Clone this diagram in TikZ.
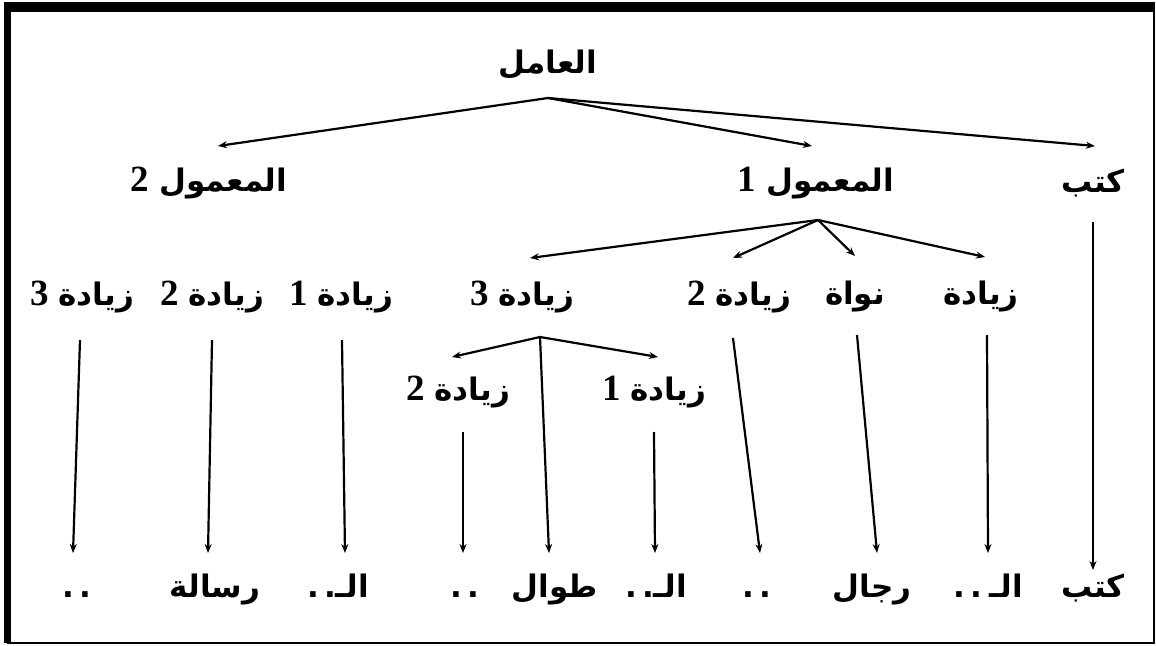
\documentclass[tikz,border=0pt]{standalone}
\usepackage{fontspec}
\usetikzlibrary{arrows.meta}
\TeXXeTstate=1
\newfontfamily\arfont[Script=Arabic]{DejaVu Sans}
\newfontfamily\numfont{Liberation Serif}
\newcommand{\AR}[1]{{\arfont\bfseries\fontsize{31}{36}\selectfont\beginR #1\endR}}
\newcommand{\NUM}[1]{{\numfont\bfseries\fontsize{37}{40}\selectfont #1}}
\newcommand{\DD}{{\arfont\bfseries\fontsize{31}{36}\selectfont .\hspace{5pt}.}}
\tikzset{
  lbl/.style={inner sep=0pt, anchor=center},
  bot/.style={inner sep=0pt, anchor=base},
  arr/.style={line width=2.2pt, -{Stealth[length=9pt,width=7pt]}},
}
\begin{document}
\begin{tikzpicture}[x=1pt,y=-1pt]
\useasboundingbox (0,0) rectangle (1156,645);
\fill[white] (0,0) rectangle (1156,645);
% frame
\draw[line width=2pt] (8,8) rectangle (1153.5,642.5);
\fill[black] (4,2) rectangle (1155,12);
\fill[black] (4,2) rectangle (11,643);

% level 0
\node[lbl] (root) at (548,65) {\AR{العامل}};
\coordinate (rA) at (548,98);
% level 1
\node[lbl] (m2) at (209,183) {\NUM{2}\hspace{10pt}\AR{المعمول}};
\node[lbl] (m1) at (816,183) {\NUM{1}\hspace{10pt}\AR{المعمول}};
\node[lbl] (k1) at (1093,183) {\AR{كتب}};
\coordinate (t-m2) at (218,146);
\coordinate (t-m1) at (812,146);
\coordinate (t-k1) at (1095,146);
\draw[arr] (rA) -- (t-m2);
\draw[arr] (rA) -- (t-m1);
\draw[arr] (rA) -- (t-k1);

% level 2
\node[lbl] (z3a) at (82,297) {\NUM{3}\hspace{10pt}\AR{زيادة}};
\node[lbl] (z2a) at (212,297) {\NUM{2}\hspace{10pt}\AR{زيادة}};
\node[lbl] (z1a) at (341,297) {\NUM{1}\hspace{10pt}\AR{زيادة}};
\node[lbl] (z3b) at (522,297) {\NUM{3}\hspace{10pt}\AR{زيادة}};
\node[lbl] (z2b) at (739,297) {\NUM{2}\hspace{10pt}\AR{زيادة}};
\node[lbl] (nw) at (855,297) {\AR{نواة}};
\node[lbl] (zz) at (981,297) {\AR{زيادة}};
\coordinate (mA) at (818,220);
\coordinate (t-z3b) at (530,258);
\coordinate (t-z2b) at (733,258);
\coordinate (t-nw) at (855,256);
\coordinate (t-zz) at (985,257);
\draw[arr] (mA) -- (t-z3b);
\draw[arr] (mA) -- (t-z2b);
\draw[arr] (mA) -- (t-nw);
\draw[arr] (mA) -- (t-zz);

% level 3
\node[lbl] (s2) at (458,392) {\NUM{2}\hspace{10pt}\AR{زيادة}};
\node[lbl] (s1) at (654,392) {\NUM{1}\hspace{10pt}\AR{زيادة}};
\coordinate (zA) at (540,337);
\coordinate (t-s2) at (452,357);
\coordinate (t-s1) at (658,357);
\draw[arr] (zA) -- (t-s2);
\draw[arr] (zA) -- (t-s1);

% bottom row
\node[bot] (b1) at (77,597) {\DD};
\node[bot] (b2) at (215,597) {\AR{رسالة}};
\node[bot] (b3) at (338,597) {\DD\AR{الـ}};
\node[bot] (b4) at (465,597) {\DD};
\node[bot] (b5) at (555,597) {\AR{طوال}};
\node[bot] (b6) at (656,597) {\DD\AR{الـ}};
\node[bot] (b7) at (757,597) {\DD};
\node[bot] (b8) at (872,597) {\AR{رجال}};
\node[bot] (b9) at (988,597) {\DD\hspace{8pt}\AR{الـ}};
\node[bot] (b10) at (1093,597) {\AR{كتب}};

% vertical connectors
\coordinate (f-z3a) at (80,340);  \coordinate (t-b1) at (73,553);
\coordinate (f-z2a) at (212,340); \coordinate (t-b2) at (208,553);
\coordinate (f-z1a) at (342,340); \coordinate (t-b3) at (345,553);
\coordinate (f-s2) at (463,432);  \coordinate (t-b4) at (463,553);
\coordinate (t-b5) at (549,553);
\coordinate (f-s1) at (654,432);  \coordinate (t-b6) at (655,553);
\coordinate (f-z2b) at (733,338); \coordinate (t-b7) at (760,553);
\coordinate (f-nw) at (857,335);  \coordinate (t-b8) at (877,553);
\coordinate (f-zz) at (987,335);  \coordinate (t-b9) at (988,553);
\coordinate (f-k1) at (1093,222); \coordinate (t-b10) at (1093,570);
\draw[arr] (f-z3a) -- (t-b1);
\draw[arr] (f-z2a) -- (t-b2);
\draw[arr] (f-z1a) -- (t-b3);
\draw[arr] (f-s2) -- (t-b4);
\draw[arr] (zA) -- (t-b5);
\draw[arr] (f-s1) -- (t-b6);
\draw[arr] (f-z2b) -- (t-b7);
\draw[arr] (f-nw) -- (t-b8);
\draw[arr] (f-zz) -- (t-b9);
\draw[arr] (f-k1) -- (t-b10);
\end{tikzpicture}
\end{document}
